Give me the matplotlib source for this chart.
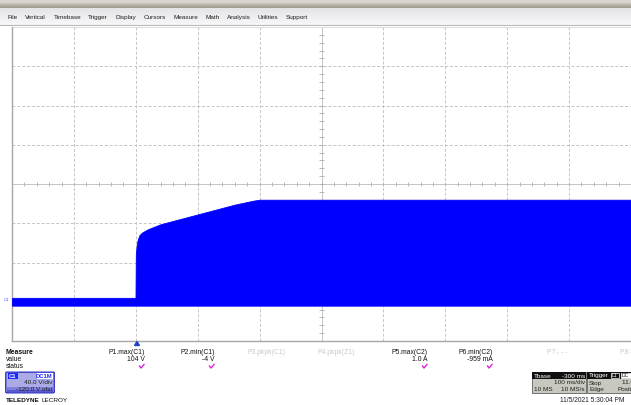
import numpy as np
import matplotlib
matplotlib.use("Agg")
import matplotlib.pyplot as plt
from matplotlib.patches import FancyBboxPatch, Rectangle, Polygon

plt.rcParams["font.family"] = ["Liberation Sans", "DejaVu Sans"]

W, H = 631, 405

# signal envelope (C1), time in ms relative to trigger, volts
t_ms = [-200, -0.5, 0, 1.5, 3, 6, 10, 20, 40, 70, 100, 130, 160, 190, 200, 800]
v_max = [4, 4, 48, 58, 63, 68, 70.5, 74, 79, 84, 89, 94, 99, 103, 104, 104]
v_min = [-4] * len(t_ms)

menu_items = ["File", "Vertical", "Timebase", "Trigger", "Display", "Cursors",
              "Measure", "Math", "Analysis", "Utilities", "Support"]

# measurement table
meas_names = ["P1.max(C1)", "P2.min(C1)", "P3.pkpk(C1)", "P4.pkpk(Z1)",
              "P5.max(C2)", "P6.min(C2)", "P7:- - -", "P8:- - -"]
meas_values = ["104 V", "-4 V", "", "", "1.0 A", "-959 mA", "", ""]
meas_active = [True, True, False, False, True, True, False, False]
meas_right_x = [145, 215, 285, 355, 428, 493, 568, 640]

volts_per_div = 40.0
offset = -120.0
ms_per_div = 100.0


def fx(x):
    return x / W


def fy(y):
    return 1 - y / H


fig = plt.figure(figsize=(W / 100, H / 100), dpi=100)
fig.patch.set_facecolor("white")

# menu bar
mb = fig.add_axes([0, fy(26), 1, 26 / H])
grad = np.ones((26, 1, 3))
for i in range(26):
    if i < 3:
        c = np.array([215, 212, 205])
    elif i < 8:
        c = np.array([200, 195, 185]) - (i - 3) * np.array([10, 10, 10])
    else:
        c = np.array([228, 228, 232]) + (i - 8) * np.array([1.2, 1.2, 1.0])
    grad[i, 0] = np.clip(c, 0, 255) / 255
mb.imshow(grad, aspect="auto", extent=[0, 1, 1, 0])
mb.axhline(0.98, color="#b8b8b8", lw=0.8)
mb.set_xlim(0, 1)
mb.set_ylim(1, 0)
mb.axis("off")

# lay the menu items out between x=8 and x=308
menu_texts = [fig.text(0, fy(19), item, fontsize=4.6, color="#202020", va="baseline")
              for item in menu_items]
fig.canvas.draw()
widths = [t.get_window_extent().width for t in menu_texts]
gap = (308 - 8 - sum(widths)) / (len(widths) - 1)
x = 8
for t, w in zip(menu_texts, widths):
    t.set_x(fx(x))
    x += w + gap

# main scope grid
ax = fig.add_axes([fx(12), fy(341), 1 - fx(12), (341 - 27) / H])
ax.set_xlim(-2 * ms_per_div, 8 * ms_per_div)
center = -offset
ax.set_ylim(center - 4 * volts_per_div, center + 4 * volts_per_div)
ax.set_xticks([])
ax.set_yticks([])
for s in ["top", "right"]:
    ax.spines[s].set_visible(False)
for s in ["left", "bottom"]:
    ax.spines[s].set_color("#a8a8a8")
    ax.spines[s].set_linewidth(1.0)
ax.axhline(center + 4 * volts_per_div, color="#dcdcdc", lw=0.8)

grid_col = "#c4c4c4"
for k in range(1, 10):
    xv = -2 * ms_per_div + k * ms_per_div
    if k == 5:
        ax.axvline(xv, color="#bcbcbc", lw=0.6, zorder=1)
    else:
        ax.axvline(xv, color=grid_col, lw=0.7, ls=(0, (3, 2)), zorder=1)
for k in range(1, 8):
    yv = center - 4 * volts_per_div + k * volts_per_div
    if k == 4:
        ax.axhline(yv, color="#bcbcbc", lw=0.6, zorder=1)
    else:
        ax.axhline(yv, color=grid_col, lw=0.7, ls=(0, (3, 2)), zorder=1)

# minor ticks on the centre cross
minor_x = np.arange(-2 * ms_per_div, 8 * ms_per_div, ms_per_div / 5)
ax.vlines(minor_x, center - 2.2, center + 2.2, color="#b0b0b0", lw=0.6, zorder=1)
minor_y = np.arange(center - 4 * volts_per_div, center + 4 * volts_per_div, volts_per_div / 5)
ax.hlines(minor_y, 3 * ms_per_div - 4, 3 * ms_per_div + 4, color="#b0b0b0", lw=0.6, zorder=1)

# C1 trace
ax.fill_between(t_ms, v_min, v_max, color="#0000ff", lw=0.6, edgecolor="#0000ff", zorder=3)

# C1 ground marker
fig.text(fx(4), fy(300), "C1", fontsize=3.2, color="#5050ff", va="center")

# trigger marker
fig.patches.append(Polygon([[fx(134.5), fy(345.5)], [fx(139.5), fy(345.5)], [fx(137), fy(341.5)]],
                           closed=True, transform=fig.transFigure, color="#2040d0"))

# measurement area
fs = 4.9
fig.text(fx(6), fy(354), "Measure", fontsize=fs, fontweight="bold", color="#101010")
fig.text(fx(6), fy(361), "value", fontsize=fs, color="#101010")
fig.text(fx(6), fy(368), "status", fontsize=fs, color="#101010")
for name, val, act, rx in zip(meas_names, meas_values, meas_active, meas_right_x):
    col = "#101010" if act else "#c8c8c8"
    fig.text(fx(rx), fy(354), name, fontsize=fs, color=col, ha="right")
    if val:
        fig.text(fx(rx), fy(361), val, fontsize=fs, color=col, ha="right")
    if act:
        cx = rx - 3
        fig.lines.append(plt.Line2D([fx(cx - 2.5), fx(cx - 1), fx(cx + 2)],
                                    [fy(366), fy(368), fy(364.5)],
                                    transform=fig.transFigure, color="#e020e0", lw=1.0))

# C1 channel box
fig.patches.append(FancyBboxPatch((fx(7), fy(392)), fx(46), (392 - 373) / H,
                                  boxstyle="round,pad=0.002", transform=fig.transFigure,
                                  fc="#aaaae6", ec="#3838c8", lw=1.0))
fig.patches.append(Rectangle((fx(7), fy(390)), fx(46), (390 - 387) / H,
                             transform=fig.transFigure, fc="#8080dc", ec="none"))
fig.patches.append(Rectangle((fx(7), fy(392)), fx(46), 2 / H,
                             transform=fig.transFigure, fc="#5a5ad0", ec="none"))
fig.patches.append(Rectangle((fx(8), fy(379)), fx(10), 6 / H,
                             transform=fig.transFigure, fc="#1a2aff", ec="none"))
fig.text(fx(9), fy(377.5), "C1", fontsize=4.2, color="white", fontweight="bold")
fig.patches.append(Rectangle((fx(37), fy(379)), fx(16), 6 / H,
                             transform=fig.transFigure, fc="white", ec="none"))
fig.text(fx(52), fy(377.5), "DC1M", fontsize=4.2, color="#1a2aff", fontweight="bold", ha="right")
fig.text(fx(52), fy(384.5), "40.0 V/div", fontsize=4.6, color="#202020", ha="right")
fig.text(fx(52), fy(391), "-120.0 V ofst", fontsize=4.6, color="#202020", ha="right")

t1 = fig.text(fx(6), fy(402), "TELEDYNE", fontsize=4.6, fontweight="bold", color="#101010")
fig.canvas.draw()
bb = t1.get_window_extent()
fig.text(bb.x1 / W + fx(1.5), fy(402), "LECROY", fontsize=4.6, color="#101010")

# timebase / trigger boxes
for x0, x1 in [(532, 586), (587, 640)]:
    fig.patches.append(Rectangle((fx(x0), fy(393)), fx(x1 - x0), (393 - 372) / H,
                                 transform=fig.transFigure, fc="#c8c8c0", ec="#606060", lw=0.6))
    fig.patches.append(Rectangle((fx(x0), fy(379)), fx(x1 - x0), 7 / H,
                                 transform=fig.transFigure, fc="#101010", ec="none"))
bs = 4.6
fig.text(fx(534), fy(377.5), "Tbase", fontsize=bs, color="white")
fig.text(fx(585), fy(377.5), "-300 ms", fontsize=bs, color="white", ha="right")
fig.text(fx(585), fy(384.5), "100 ms/div", fontsize=bs, color="#202020", ha="right")
fig.text(fx(534), fy(391), "10 MS", fontsize=bs, color="#202020")
fig.text(fx(585), fy(391), "10 MS/s", fontsize=bs, color="#202020", ha="right")
fig.text(fx(589), fy(377.5), "Trigger", fontsize=bs, color="white")
fig.patches.append(Rectangle((fx(611), fy(378)), fx(8), 5 / H, transform=fig.transFigure,
                             fc="#101010", ec="white", lw=0.5))
fig.text(fx(612), fy(377.2), "L1", fontsize=3.6, color="white")
fig.patches.append(Rectangle((fx(621), fy(378)), fx(10), 5 / H, transform=fig.transFigure,
                             fc="white", ec="white", lw=0.5))
fig.text(fx(622), fy(377.2), "DC", fontsize=3.6, color="#101010")
fig.text(fx(589), fy(384.5), "Stop", fontsize=bs, color="#202020")
fig.text(fx(640), fy(384.5), "11.0 V", fontsize=bs, color="#202020", ha="right")
fig.text(fx(589), fy(391), "Edge", fontsize=bs, color="#202020")
fig.text(fx(640), fy(391), "Positive", fontsize=bs, color="#202020", ha="right")

fig.text(fx(625), fy(402), "11/5/2021 5:30:04 PM", fontsize=4.8, color="#202020", ha="right")

fig.savefig("out.png", dpi=100)
